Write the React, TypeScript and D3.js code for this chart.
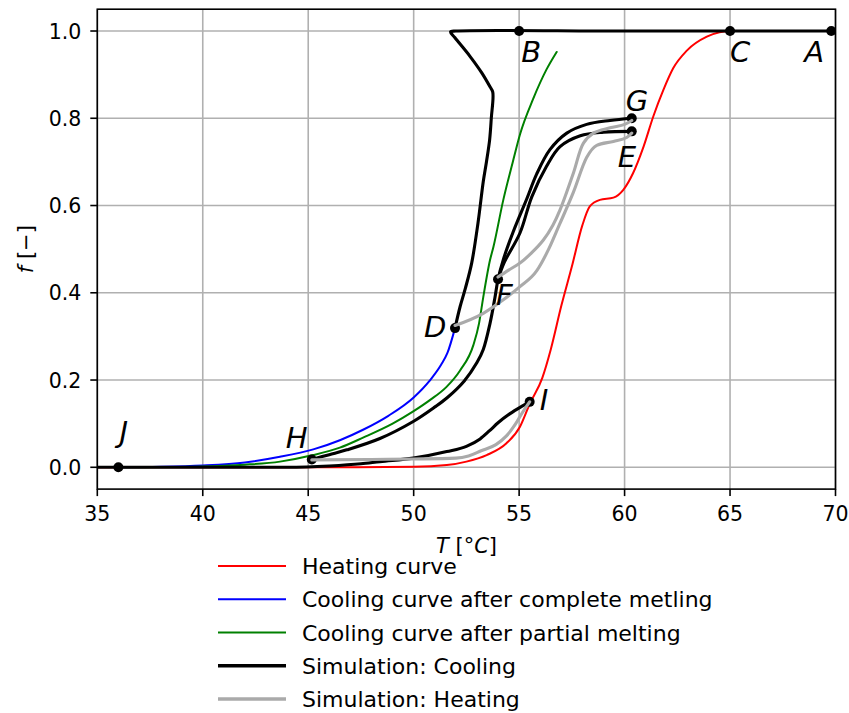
import React from "react";
import * as d3 from "d3";

// ---------- data ----------
const xTicks = [35, 40, 45, 50, 55, 60, 65, 70];
const yTicks = [0.0, 0.2, 0.4, 0.6, 0.8, 1.0];

const heatingCurve: [number, number][] = [
  [35, 0], [45, 0], [50, 0.001], [51.57, 0.005], [52.5, 0.013], [53.46, 0.028], [54.4, 0.055],
  [55.04, 0.093], [55.5, 0.145], [56.1, 0.205], [56.5, 0.27], [57, 0.37], [57.5, 0.46],
  [58, 0.555], [58.35, 0.598], [58.83, 0.613], [59.47, 0.618], [59.94, 0.636], [60.4, 0.674],
  [60.9, 0.735], [61.36, 0.804], [61.84, 0.865], [62.31, 0.915], [62.95, 0.955],
  [63.9, 0.987], [64.5, 0.997], [65, 1.0],
];

const coolingComplete: [number, number][] = [
  [36, 0], [38, 0.001], [40, 0.004], [42, 0.011], [43.66, 0.024], [45.24, 0.041],
  [46.5, 0.062], [47.6, 0.086], [48.8, 0.118], [50, 0.16], [50.75, 0.198], [51.3, 0.235],
  [51.6, 0.262], [51.96, 0.319],
];

const coolingPartial: [number, number][] = [
  [36, 0], [40, 0.002], [42, 0.006], [43.66, 0.013], [45.24, 0.028], [46.5, 0.045],
  [47.6, 0.068], [49, 0.1], [49.98, 0.128], [50.8, 0.155], [51.57, 0.185], [52.2, 0.222],
  [52.83, 0.28], [53.1, 0.33], [53.3, 0.39], [53.62, 0.475], [53.78, 0.505], [54.25, 0.613],
  [54.7, 0.7], [55.04, 0.763], [55.67, 0.845], [56.3, 0.912], [56.78, 0.952],
];

// Simulation: cooling (black)
const simCoolTop: [number, number][] = [
  [69.8, 1], [60, 1], [52, 1], [51.75, 0.998], [51.95, 0.985], [52.67, 0.942],
  [53.23, 0.904], [53.62, 0.872], [53.75, 0.86], [53.68, 0.8], [53.6, 0.75], [53.45, 0.7],
  [53.3, 0.655], [53.05, 0.56], [52.75, 0.468], [52.45, 0.41], [52.2, 0.368], [51.96, 0.319],
];
const simCoolHG: [number, number][] = [
  [45.17, 0.018], [46, 0.029], [46.83, 0.04], [48.4, 0.066], [49.98, 0.105], [51, 0.138],
  [51.6, 0.16], [52.4, 0.198], [53, 0.24], [53.3, 0.27], [53.62, 0.33], [53.85, 0.388],
  [54.0, 0.431], [54.25, 0.476], [54.72, 0.54], [55.36, 0.615], [55.83, 0.672],
  [56.46, 0.728], [57.26, 0.766], [58.2, 0.786], [59.31, 0.795], [60.34, 0.8],
];
const simCoolFE: [number, number][] = [
  [54.0, 0.431], [54.3, 0.47], [55.04, 0.537], [55.6, 0.62], [56.3, 0.69], [56.94, 0.735],
  [57.9, 0.76], [59.0, 0.768], [60.34, 0.77],
];
const simCoolJI: [number, number][] = [
  [35, 0], [44, 0], [46, 0.003], [47.5, 0.008], [48.4, 0.013], [49.98, 0.021], [51.57, 0.036],
  [52.5, 0.048], [53.15, 0.065], [53.6, 0.084], [54.0, 0.102], [54.57, 0.123], [55.1, 0.139],
  [55.5, 0.15],
];

// Simulation: heating (grey)
const simHeatHI: [number, number][] = [
  [45.17, 0.017], [48, 0.018], [50, 0.019], [52, 0.021], [52.6, 0.026], [53.2, 0.038],
  [53.9, 0.052], [54.4, 0.072], [54.8, 0.097], [55.15, 0.125], [55.5, 0.15],
];
const simHeatDE: [number, number][] = [
  [51.96, 0.325], [53.3, 0.353], [54.25, 0.384], [55.04, 0.414], [55.83, 0.45], [56.4, 0.5],
  [56.9, 0.555], [57.57, 0.63], [58.2, 0.71], [58.68, 0.738], [59.47, 0.747], [60.1, 0.756],
  [60.34, 0.766],
];
const simHeatFG: [number, number][] = [
  [54.0, 0.436], [54.5, 0.452], [55.04, 0.468], [55.6, 0.492], [56.15, 0.521], [56.6, 0.555],
  [56.94, 0.59], [57.57, 0.674], [58.05, 0.743], [58.52, 0.766], [59.31, 0.778], [60.0, 0.786],
  [60.34, 0.795],
];

const pointNames = ["A", "B", "C", "D", "E", "F", "G", "H", "I", "J"];
const pointT = [69.8, 55, 65, 51.96, 60.34, 54.0, 60.34, 45.17, 55.5, 36];
const pointF = [1, 1, 1, 0.319, 0.77, 0.431, 0.8, 0.018, 0.15, 0];

const legendLabels = [
  "Heating curve",
  "Cooling curve after complete metling",
  "Cooling curve after partial melting",
  "Simulation: Cooling",
  "Simulation: Heating",
];
const legendColors = ["#ff0000", "#0000ff", "#008000", "#000000", "#aaaaaa"];

// ---------- layout ----------
const W = 849;
const H = 713;
const x = d3.scaleLinear().domain([35, 70]).range([97.3, 835.5]);
const y = d3.scaleLinear().domain([-0.05, 1.05]).range([489.1, 9.2]);

// label offsets (px) relative to the point
const labelDx: Record<string, number> = { A: -27, B: 2, C: 0, D: -31, E: -14, F: -2, G: -6, H: -26, I: 10, J: 1 };
const labelDy: Record<string, number> = { A: 31, B: 31, C: 31, D: 9, E: 36, F: 26, G: -7, H: -11, I: 8, J: -25 };

const FONT = "DejaVu Sans, sans-serif";

export default function App() {
  const mono = d3.line<[number, number]>().x((d) => x(d[0])).y((d) => y(d[1])).curve(d3.curveMonotoneX);
  const cr = d3.line<[number, number]>().x((d) => x(d[0])).y((d) => y(d[1])).curve(d3.curveCatmullRom.alpha(0.5));

  const x0 = x.range()[0], x1 = x.range()[1];
  const y0 = y.range()[1], y1 = y.range()[0];

  return (
    <div style={{ position: "absolute", left: 0, top: 0 }}>
      <svg width={W} height={H} style={{ display: "block" }} fontFamily={FONT}>
        <rect width={W} height={H} fill="#ffffff" />
        <defs>
          <clipPath id="plotclip">
            <rect x={x0} y={y0} width={x1 - x0} height={y1 - y0} />
          </clipPath>
        </defs>
        {/* grid */}
        {xTicks.map((t) => (
          <line key={"gx" + t} x1={x(t)} x2={x(t)} y1={y0} y2={y1} stroke="#b0b0b0" strokeWidth={1.6} />
        ))}
        {yTicks.map((t) => (
          <line key={"gy" + t} x1={x0} x2={x1} y1={y(t)} y2={y(t)} stroke="#b0b0b0" strokeWidth={1.6} />
        ))}
        <g clipPath="url(#plotclip)" fill="none" strokeLinejoin="round" strokeLinecap="round">
          <path d={mono(heatingCurve)!} stroke="#ff0000" strokeWidth={2} />
          <path d={mono(coolingComplete)!} stroke="#0000ff" strokeWidth={2} />
          <path d={mono(coolingPartial)!} stroke="#008000" strokeWidth={2} />
          <path d={cr(simCoolTop)!} stroke="#000000" strokeWidth={3.1} />
          <path d={cr(simCoolHG)!} stroke="#000000" strokeWidth={3.1} />
          <path d={cr(simCoolFE)!} stroke="#000000" strokeWidth={3.1} />
          <path d={mono(simCoolJI)!} stroke="#000000" strokeWidth={3.1} />
          {pointNames.map((n, i) => (
            <circle key={"p" + n} cx={x(pointT[i])} cy={y(pointF[i])} r={5} fill="#000000" stroke="none" />
          ))}
          <path d={mono(simHeatHI)!} stroke="#aaaaaa" strokeWidth={3.1} />
          <path d={mono(simHeatDE)!} stroke="#aaaaaa" strokeWidth={3.1} />
          <path d={cr(simHeatFG)!} stroke="#aaaaaa" strokeWidth={3.1} />
        </g>
        {/* point labels */}
        {pointNames.map((n, i) => (
          <text
            key={"l" + n}
            x={x(pointT[i]) + labelDx[n]}
            y={y(pointF[i]) + labelDy[n]}
            fontSize={29}
            fontStyle="italic"
            fill="#000"
          >
            {n}
          </text>
        ))}
        {/* frame */}
        <rect x={x0} y={y0} width={x1 - x0} height={y1 - y0} fill="none" stroke="#000" strokeWidth={1.6} />
        {/* x ticks */}
        {xTicks.map((t) => (
          <g key={"xt" + t}>
            <line x1={x(t)} x2={x(t)} y1={y1} y2={y1 + 7} stroke="#000" strokeWidth={1.6} />
            <text x={x(t)} y={y1 + 32} textAnchor="middle" fontSize={20.5} fill="#000">
              {t}
            </text>
          </g>
        ))}
        {/* y ticks */}
        {yTicks.map((t) => (
          <g key={"yt" + t}>
            <line x1={x0 - 7} x2={x0} y1={y(t)} y2={y(t)} stroke="#000" strokeWidth={1.6} />
            <text x={x0 - 16} y={y(t) + 7.5} textAnchor="end" fontSize={20.5} fill="#000">
              {t.toFixed(1)}
            </text>
          </g>
        ))}
        {/* axis labels */}
        <text x={466.5} y={553} textAnchor="middle" fontSize={21} fill="#000">
          <tspan fontStyle="italic">T</tspan>
          {" [°"}
          <tspan fontStyle="italic">C</tspan>
          {"]"}
        </text>
        <text transform={`translate(33, ${(y0 + y1) / 2}) rotate(-90)`} textAnchor="middle" fontSize={21} fill="#000">
          <tspan fontStyle="italic">f</tspan>
          {" [−]"}
        </text>
        {/* legend */}
        {legendLabels.map((lab, i) => {
          const ly = 566 + i * 33.25;
          return (
            <g key={"lg" + i}>
              <line x1={218} x2={286} y1={ly} y2={ly} stroke={legendColors[i]} strokeWidth={i >= 3 ? 3.6 : 2} />
              <text x={302} y={ly + 8} fontSize={22} fill="#000">
                {lab}
              </text>
            </g>
          );
        })}
      </svg>
    </div>
  );
}
